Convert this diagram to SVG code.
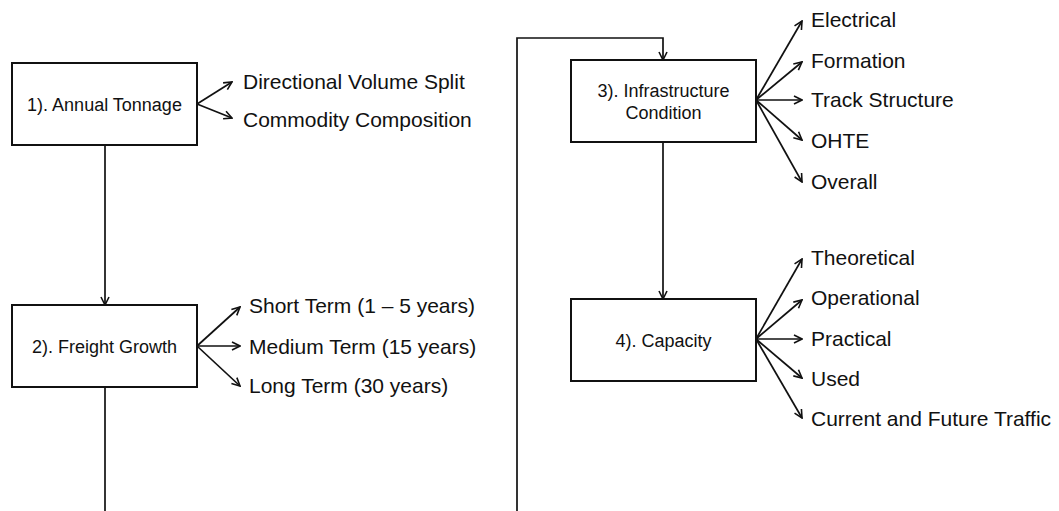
<svg xmlns="http://www.w3.org/2000/svg" width="1059" height="511" viewBox="0 0 1059 511">
  <style>
    .box { fill: #ffffff; stroke: #111111; stroke-width: 2; }
    .line { fill: none; stroke: #111111; stroke-width: 1.7; }
    .arr { marker-end: url(#head); }
    .node-text { font-family: "Liberation Sans", Arial, sans-serif; font-size: 18px; fill: #111111; text-anchor: middle; }
    .label { font-family: "Liberation Sans", Arial, sans-serif; font-size: 21px; fill: #111111; }
  </style>
  <defs>
    <marker id="head" viewBox="0 0 10 10" refX="9" refY="5" markerWidth="10" markerHeight="10" markerUnits="userSpaceOnUse" orient="auto">
      <path d="M1,1 L9,5 L1,9" fill="none" stroke="#111111" stroke-width="1.6"/>
    </marker>
  </defs>
  <rect width="1059" height="511" fill="#ffffff"/>

  <!-- flow connectors -->
  <g id="connectors">
    <path class="line arr" d="M105,145 L105,305"/>
    <path class="line" d="M105,387 L105,511"/>
    <path class="line arr" d="M517,511 L517,38 L663,38 L663,60"/>
    <path class="line arr" d="M663,142 L663,299"/>

    <!-- annual tonnage branches -->
    <path class="line arr" d="M197,104 L232,82"/>
    <path class="line arr" d="M197,104 L232,118"/>

    <!-- freight growth branches -->
    <path class="line arr" d="M197,346 L240,307"/>
    <path class="line arr" d="M197,346 L240,346"/>
    <path class="line arr" d="M197,346 L240,386"/>

    <!-- infrastructure condition branches -->
    <path class="line arr" d="M756,100 L802,21"/>
    <path class="line arr" d="M756,100 L802,62"/>
    <path class="line arr" d="M756,100 L802,100"/>
    <path class="line arr" d="M756,100 L802,140"/>
    <path class="line arr" d="M756,100 L802,182"/>

    <!-- capacity branches -->
    <path class="line arr" d="M756,339 L802,259"/>
    <path class="line arr" d="M756,339 L802,300"/>
    <path class="line arr" d="M756,339 L802,339"/>
    <path class="line arr" d="M756,339 L802,378"/>
    <path class="line arr" d="M756,339 L802,418"/>
  </g>

  <g id="annual-tonnage">
    <rect class="box" x="12" y="63" width="185" height="82"/>
    <text class="node-text" x="104.5" y="111">1). Annual Tonnage</text>
    <text class="label" x="243" y="89">Directional Volume Split</text>
    <text class="label" x="243" y="127">Commodity Composition</text>
  </g>

  <g id="freight-growth">
    <rect class="box" x="12" y="305" width="185" height="82"/>
    <text class="node-text" x="104.5" y="352.5">2). Freight Growth</text>
    <text class="label" x="249" y="313">Short Term (1 – 5 years)</text>
    <text class="label" x="249" y="354">Medium Term (15 years)</text>
    <text class="label" x="249" y="393">Long Term (30 years)</text>
  </g>

  <g id="infrastructure-condition">
    <rect class="box" x="571" y="60" width="185" height="82"/>
    <text class="node-text" x="663.5" y="97">3). Infrastructure</text>
    <text class="node-text" x="663.5" y="119">Condition</text>
    <text class="label" x="811" y="27">Electrical</text>
    <text class="label" x="811" y="68">Formation</text>
    <text class="label" x="811" y="107">Track Structure</text>
    <text class="label" x="811" y="148">OHTE</text>
    <text class="label" x="811" y="189">Overall</text>
  </g>

  <g id="capacity">
    <rect class="box" x="571" y="299" width="185" height="82"/>
    <text class="node-text" x="663.5" y="347">4). Capacity</text>
    <text class="label" x="811" y="265">Theoretical</text>
    <text class="label" x="811" y="305">Operational</text>
    <text class="label" x="811" y="346">Practical</text>
    <text class="label" x="811" y="386">Used</text>
    <text class="label" x="811" y="426">Current and Future Traffic</text>
  </g>
</svg>
